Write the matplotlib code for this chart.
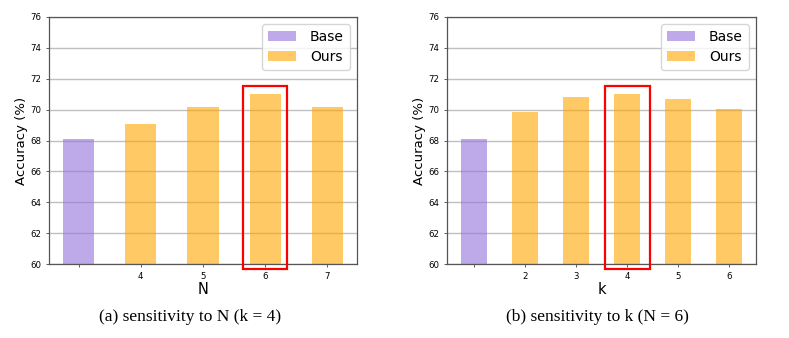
import matplotlib.pyplot as plt
from matplotlib.patches import Rectangle

# left panel: sensitivity to N (k = 4)
n_labels = ["", "4", "5", "6", "7"]
n_base = 68.08
n_ours = [69.07, 70.15, 71.0, 70.17]

# right panel: sensitivity to k (N = 6)
k_labels = ["", "2", "3", "4", "5", "6"]
k_base = 68.08
k_ours = [69.86, 70.85, 71.0, 70.72, 70.05]

best_n = 3
best_k = 3


def draw_panel(ax, labels, base, ours, best, xlabel, box_half):
    ax.set_axisbelow(True)
    ax.grid(True, axis="y", color="#c0c0c0", linewidth=1.0)
    ax.bar([0], [base], width=0.5, color="mediumpurple", alpha=0.6, label="Base")
    ax.bar(range(1, len(ours) + 1), ours, width=0.5, color="orange", alpha=0.6,
           label="Ours")
    ax.set_ylim(60, 76)
    ax.set_yticks(range(60, 77, 2))
    ax.set_xticks(range(len(labels)))
    ax.set_xticklabels(labels)
    ax.tick_params(labelsize=6.2, length=2.5, width=0.6, color="#444444", pad=3)
    ax.set_xlabel(xlabel, fontsize=10.5, labelpad=1)
    ax.set_ylabel("Accuracy (%)", fontsize=9.5, labelpad=2)
    for s in ax.spines.values():
        s.set_color("#555555")
        s.set_linewidth(0.9)
    ax.legend(loc="upper right", fontsize=10, handlelength=2.0,
              borderpad=0.45, labelspacing=0.4, handletextpad=1.0)
    # highlight the chosen setting
    top = max(ours) + 0.5
    ax.add_patch(Rectangle((best - box_half, 59.65), 2 * box_half, top - 59.65,
                           fill=False, edgecolor="red", linewidth=1.6,
                           clip_on=False, zorder=5))


fig = plt.figure(figsize=(7.89, 3.38), dpi=100)
ax1 = fig.add_axes([49 / 789, 1 - 264 / 338, 308 / 789, 247 / 338])
ax2 = fig.add_axes([447 / 789, 1 - 264 / 338, 309 / 789, 247 / 338])

draw_panel(ax1, n_labels, n_base, n_ours, best_n, "N", 0.35)
draw_panel(ax2, k_labels, k_base, k_ours, best_k, "k", 0.44)

fig.text(190 / 789, 1 - 317 / 338, "(a) sensitivity to N (k = 4)",
         ha="center", va="center", fontsize=12.5, family="Liberation Serif")
fig.text(597 / 789, 1 - 317 / 338, "(b) sensitivity to k (N = 6)",
         ha="center", va="center", fontsize=12.5, family="Liberation Serif")

fig.savefig("out.png", dpi=100)
